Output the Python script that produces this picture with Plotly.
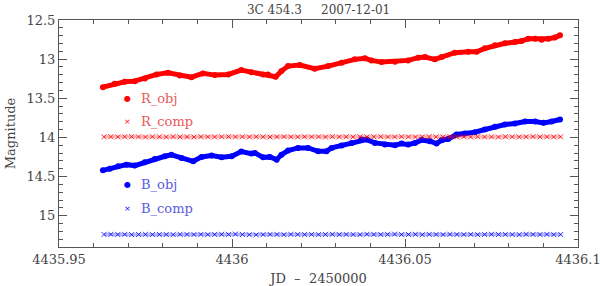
import plotly.graph_objects as go

# %% Данные (JD - 2450000, звёздные величины)
jd_obj = [4435.9627, 4435.9661, 4435.9690, 4435.9719, 4435.9748, 4435.9782, 4435.9815,
          4435.9849, 4435.9883, 4435.9916, 4435.9950, 4435.9989, 4436.0027, 4436.0056,
          4436.0090, 4436.0104, 4436.0126, 4436.0143, 4436.0162, 4436.0196, 4436.0239,
          4436.0278, 4436.0317, 4436.0355, 4436.0384, 4436.0403, 4436.0432, 4436.0471,
          4436.0509, 4436.0538, 4436.0558, 4436.0586, 4436.0606, 4436.0644, 4436.0683,
          4436.0707, 4436.0731, 4436.0760, 4436.0789, 4436.0818, 4436.0837, 4436.0856,
          4436.0876, 4436.0895, 4436.0914, 4436.0933, 4436.0948]
r_obj = [13.358, 13.314, 13.289, 13.281, 13.246, 13.195, 13.173,
         13.208, 13.230, 13.182, 13.204, 13.195, 13.140, 13.166,
         13.195, 13.195, 13.225, 13.153, 13.089, 13.076, 13.122,
         13.089, 13.045, 13.003, 12.990, 13.016, 13.038, 13.033,
         13.016, 12.981, 12.974, 13.003, 12.974, 12.917, 12.905,
         12.905, 12.862, 12.824, 12.798, 12.782, 12.769, 12.738,
         12.738, 12.751, 12.738, 12.725, 12.696]

jd_b = [4435.9627, 4435.9647, 4435.9671, 4435.9695, 4435.9719, 4435.9748, 4435.9777,
        4435.9806, 4435.9825, 4435.9854, 4435.9888, 4435.9912, 4435.9941, 4435.9970,
        4435.9999, 4436.0027, 4436.0056, 4436.0066, 4436.0090, 4436.0109, 4436.0129,
        4436.0143, 4436.0162, 4436.0191, 4436.0220, 4436.0249, 4436.0273, 4436.0288,
        4436.0317, 4436.0346, 4436.0375, 4436.0389, 4436.0413, 4436.0442, 4436.0471,
        4436.0490, 4436.0509, 4436.0529, 4436.0548, 4436.0572, 4436.0591, 4436.0606,
        4436.0625, 4436.0649, 4436.0673, 4436.0702, 4436.0731, 4436.0760, 4436.0789,
        4436.0818, 4436.0847, 4436.0876, 4436.0900, 4436.0924, 4436.0948]
b_obj = [14.421, 14.399, 14.369, 14.348, 14.360, 14.318, 14.275,
         14.241, 14.223, 14.262, 14.305, 14.249, 14.232, 14.254,
         14.241, 14.181, 14.207, 14.198, 14.255, 14.249, 14.284,
         14.220, 14.168, 14.134, 14.134, 14.177, 14.177, 14.134,
         14.104, 14.070, 14.028, 14.028, 14.070, 14.092, 14.100,
         14.079, 14.092, 14.070, 14.034, 14.049, 14.079, 14.036,
         14.019, 13.963, 13.951, 13.934, 13.899, 13.865, 13.835,
         13.823, 13.797, 13.797, 13.814, 13.797, 13.771]

jd_comp = [4435.963, 4435.965, 4435.967, 4435.969, 4435.971, 4435.973, 4435.975, 4435.977,
           4435.979, 4435.981, 4435.983, 4435.985, 4435.987, 4435.989, 4435.991, 4435.993,
           4435.995, 4435.997, 4435.999, 4436.001, 4436.003, 4436.005, 4436.007, 4436.009,
           4436.011, 4436.013, 4436.015, 4436.017, 4436.019, 4436.021, 4436.023, 4436.025,
           4436.027, 4436.029, 4436.031, 4436.033, 4436.035, 4436.037, 4436.039, 4436.041,
           4436.043, 4436.045, 4436.047, 4436.049, 4436.051, 4436.053, 4436.055, 4436.057,
           4436.059, 4436.061, 4436.063, 4436.065, 4436.067, 4436.069, 4436.071, 4436.073,
           4436.075, 4436.077, 4436.079, 4436.081, 4436.083, 4436.085, 4436.087, 4436.089,
           4436.091, 4436.093, 4436.095]
r_comp = [13.993, 13.991, 13.994, 13.992, 13.990, 13.993, 13.995, 13.991, 13.992, 13.994,
          13.990, 13.993, 13.992, 13.995, 13.991, 13.993, 13.994, 13.992, 13.990, 13.993,
          13.992, 13.994, 13.991, 13.993, 13.995, 13.992, 13.990, 13.993, 13.994, 13.991,
          13.993, 13.992, 13.995, 13.990, 13.993, 13.992, 13.994, 13.991, 13.993, 13.992,
          13.990, 13.994, 13.993, 13.991, 13.992, 13.995, 13.993, 13.990, 13.992, 13.994,
          13.991, 13.993, 13.992, 13.994, 13.990, 13.993, 13.992, 13.995, 13.991, 13.993,
          13.994, 13.992, 13.990, 13.993, 13.992, 13.994, 13.992]
b_comp = [15.240, 15.238, 15.241, 15.239, 15.242, 15.240, 15.238, 15.241, 15.239, 15.240,
          15.242, 15.238, 15.240, 15.241, 15.239, 15.242, 15.240, 15.238, 15.241, 15.236,
          15.240, 15.243, 15.245, 15.241, 15.239, 15.240, 15.242, 15.238, 15.240, 15.241,
          15.239, 15.242, 15.240, 15.238, 15.241, 15.239, 15.240, 15.242, 15.238, 15.240,
          15.241, 15.239, 15.236, 15.242, 15.240, 15.238, 15.243, 15.239, 15.240, 15.242,
          15.238, 15.240, 15.241, 15.239, 15.242, 15.240, 15.238, 15.241, 15.239, 15.240,
          15.242, 15.238, 15.240, 15.241, 15.239, 15.242, 15.240]

# подписи осей
x_ticks = [4435.95, 4436.0, 4436.05, 4436.1]
x_ticktext = ['4435.95', '4436', '4436.05', '4436.1']
y_ticks = [12.5, 13.0, 13.5, 14.0, 14.5, 15.0]
y_ticktext = ['12.5', '13', '13.5', '14', '14.5', '15']

# подписи «легенды» и их положение в координатах данных
labels = ['R_obj', 'R_comp', 'B_obj', 'B_comp']
label_mag = [13.50, 13.80, 14.60, 14.91]
label_sym = ['\u25cf', '\u00d7', '\u25cf', '\u00d7']
label_col = ['#ff0000', '#ff0000', '#0000ff', '#0000ff']
label_txt = ['#e85a5a', '#e85a5a', '#5a5ae0', '#5a5ae0']

RED = '#ff0000'
BLUE = '#0000ff'
FONT = 'DejaVu Serif'
GREY = '#444444'

# %% График
fig = go.Figure()
fig.add_trace(go.Scatter(x=jd_obj, y=r_obj, mode='lines+markers',
                         line=dict(color=RED, width=5),
                         marker=dict(color=RED, size=6)))
fig.add_trace(go.Scatter(x=jd_b, y=b_obj, mode='lines+markers',
                         line=dict(color=BLUE, width=5),
                         marker=dict(color=BLUE, size=6)))
fig.add_trace(go.Scatter(x=jd_comp, y=r_comp, mode='lines+markers',
                         line=dict(color='rgba(255,0,0,0.3)', width=3),
                         marker=dict(symbol='x-thin', size=5, color=RED,
                                     line=dict(color='rgba(255,0,0,0.8)', width=1))))
fig.add_trace(go.Scatter(x=jd_comp, y=b_comp, mode='lines+markers',
                         line=dict(color='rgba(0,0,255,0.3)', width=3),
                         marker=dict(symbol='x-thin', size=5, color=BLUE,
                                     line=dict(color='rgba(0,0,255,0.8)', width=1))))

for lab, m, s, c, tc in zip(labels, label_mag, label_sym, label_col, label_txt):
    fig.add_annotation(x=4435.9699, y=m, text=s, showarrow=False,
                       xanchor='center', yanchor='middle',
                       font=dict(family=FONT, size=8, color=c))
    fig.add_annotation(x=4435.9730, y=m, text=lab, showarrow=False,
                       xanchor='left', yanchor='middle',
                       font=dict(family=FONT, size=13, color=tc))

axis = dict(showgrid=False, zeroline=False, showline=True, linecolor='#555555',
            linewidth=1, mirror='allticks', ticks='inside', tickcolor='#555555',
            ticklen=8, automargin=False, ticklabeloverflow='allow',
            tickfont=dict(family=FONT, size=13, color=GREY))

fig.update_xaxes(**axis, range=[4435.95, 4436.1], tickvals=x_ticks, ticktext=x_ticktext,
                 minor=dict(dtick=0.01, tick0=4435.95, ticks='inside', ticklen=4,
                            tickcolor='#555555'),
                 title=dict(text='JD\u00a0\u00a0\u2013\u00a0\u00a02450000', standoff=10,
                            font=dict(family=FONT, size=13, color=GREY)))
fig.update_yaxes(**axis, range=[15.4, 12.5], tickvals=y_ticks, ticktext=y_ticktext,
                 minor=dict(dtick=0.1, tick0=12.5, ticks='inside', ticklen=4,
                            tickcolor='#555555'),
                 title=dict(text='Magnitude', standoff=7,
                            font=dict(family=FONT, size=13, color=GREY)))

fig.update_layout(
    width=600, height=286,
    margin=dict(l=59, r=22, t=20, b=39),
    paper_bgcolor='white', plot_bgcolor='white',
    showlegend=False,
    title=dict(text='3C 454.3\u00a0\u00a0\u00a0\u00a0\u00a02007-12-01', x=0.531, xanchor='center',
               y=0.965, yanchor='middle', font=dict(family=FONT, size=12, color=GREY)),
)

# у body по умолчанию отступ 8px - убираем, чтобы рисунок встал в окно целиком
fig.write_html("out.html", config={'displayModeBar': False},
               post_script="document.body.style.margin='0';")
